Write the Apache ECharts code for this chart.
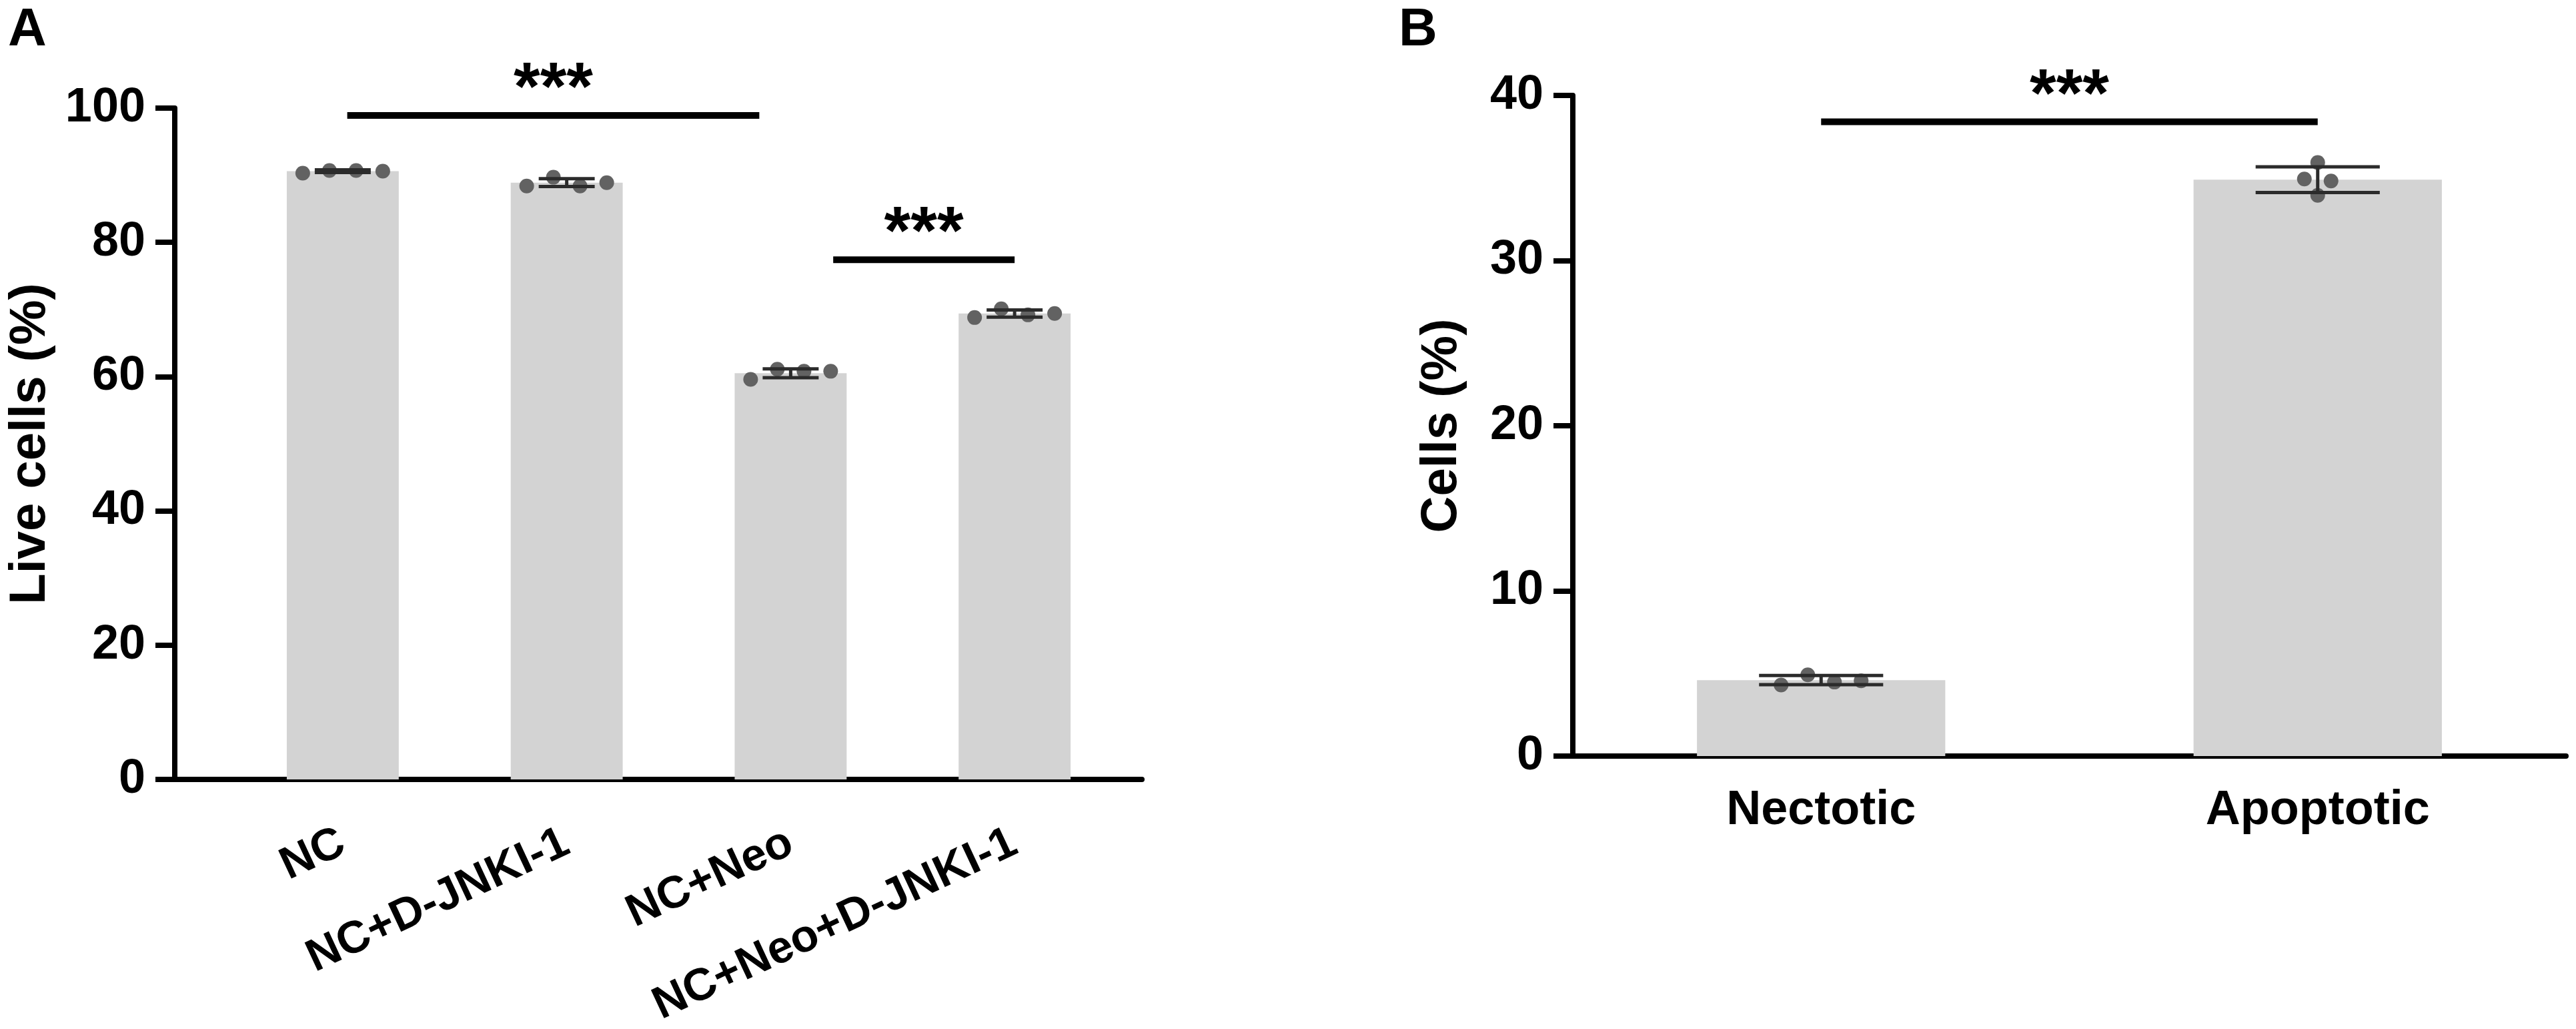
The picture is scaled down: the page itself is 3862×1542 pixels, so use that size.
<!DOCTYPE html>
<html>
<head>
<meta charset="utf-8">
<script src="https://cdn.jsdelivr.net/npm/echarts@6/dist/echarts.min.js"></script>
<style>
  html, body { margin: 0; padding: 0; background: #fff; }
  #chart { width: 3862px; height: 1542px; }
</style>
</head>
<body>
<div id="chart"></div>
<script>
// ---- panel A: live cells ----
const groupsA = ['NC', 'NC+D-JNKI-1', 'NC+Neo', 'NC+Neo+D-JNKI-1'];
const meanA = [90.6, 88.9, 60.5, 69.4];
const sdA = [0.2, 0.58, 0.66, 0.53];
const pointsA = [
  [90.3, 90.7, 90.7, 90.6],
  [88.4, 89.7, 88.4, 88.9],
  [59.6, 61.1, 60.8, 60.8],
  [68.8, 70.1, 69.2, 69.4]
];
// [from category, to category, y, text]
const sigA = [
  [0.02, 1.86, 98.9, '***'],
  [2.19, 3.0, 77.4, '***']
];
const ticksA = [0, 20, 40, 60, 80, 100];

// ---- panel B: cell death type ----
const groupsB = ['Nectotic', 'Apoptotic'];
const meanB = [4.6, 34.9];
const sdB = [0.28, 0.78];
const pointsB = [
  [4.3, 4.92, 4.48, 4.56],
  [35.94, 34.94, 34.82, 33.95]
];
const sigB = [
  [0, 1, 38.4, '***']
];
const ticksB = [0, 10, 20, 30, 40];

const FONT = '"Liberation Sans", Arial, Helvetica, sans-serif';
const BAR_COLOR = '#d3d3d3';
const DOT_COLOR = '#626262';
const ERR_COLOR = '#2b2b2b';
const DOT = 22;      // dot diameter
const DOT_GAP = 40;  // spacing between dots in one row

function seg(x1, y1, x2, y2, color, w) {
  return { type: 'line', shape: { x1, y1, x2, y2 }, style: { stroke: color, lineWidth: w, lineCap: 'butt' } };
}

// dots (grouped in rows when their heights overlap) + mean ± SD error bar
function dotsRender(means, sds, points) {
  return function (params, api) {
    const i = params.dataIndex;
    const band = api.size([1, 0])[0];
    const cx = api.coord([i, means[i]])[0];
    const ys = points[i].map(v => api.coord([i, v])[1]);
    const order = ys.map((y, k) => k).sort((a, b) => ys[a] - ys[b]);
    const bins = [];
    order.forEach(k => {
      const last = bins[bins.length - 1];
      if (last && ys[k] - ys[last[0]] <= DOT) last.push(k);
      else bins.push([k]);
    });
    const children = [];
    bins.forEach(bin => {
      bin.slice().sort((a, b) => a - b).forEach((k, j) => {
        children.push({
          type: 'circle',
          shape: { cx: cx + (j - (bin.length - 1) / 2) * DOT_GAP, cy: ys[k], r: DOT / 2 },
          style: { fill: DOT_COLOR }
        });
      });
    });
    const top = api.coord([i, means[i] + sds[i]])[1];
    const bot = api.coord([i, means[i] - sds[i]])[1];
    const half = band * 0.125;
    children.push(seg(cx, top, cx, bot, ERR_COLOR, 5));
    children.push(seg(cx - half, top, cx + half, top, ERR_COLOR, 5));
    children.push(seg(cx - half, bot, cx + half, bot, ERR_COLOR, 5));
    return { type: 'group', children };
  };
}

// point on a category axis at a fractional category position
function catPoint(api, c, y) {
  const i = Math.floor(c);
  const p = api.coord([i, y]);
  return [p[0] + (c - i) * api.size([1, 0])[0], p[1]];
}

function sigRender(sigs) {
  return function (params, api) {
    const s = sigs[params.dataIndex];
    const a = catPoint(api, s[0], s[2]);
    const b = catPoint(api, s[1], s[2]);
    return {
      type: 'group',
      children: [
        seg(a[0], a[1], b[0], b[1], '#000', 10),
        {
          type: 'text',
          style: {
            text: s[3], x: (a[0] + b[0]) / 2, y: a[1] - 37,
            align: 'center', verticalAlign: 'middle',
            font: 'bold 102px ' + FONT, fill: '#000'
          }
        }
      ]
    };
  };
}

const axisLine = { show: true, onZero: false, lineStyle: { color: '#000', width: 8 } };
const tickLabel = { color: '#000', fontSize: 72, fontWeight: 'bold', fontFamily: FONT, margin: 44 };
const yTick = { show: true, inside: false, length: 29, lineStyle: { color: '#000', width: 8 } };
const nameStyle = { color: '#000', fontSize: 76, fontWeight: 'bold', fontFamily: FONT };

const chart = echarts.init(document.getElementById('chart'));

chart.setOption({
  animation: false,
  backgroundColor: '#fff',
  textStyle: { fontFamily: FONT },
  graphic: [
    { type: 'text', left: 12, top: 6, style: { text: 'A', font: 'bold 80px ' + FONT, fill: '#000' } },
    { type: 'text', left: 2097, top: 6, style: { text: 'B', font: 'bold 80px ' + FONT, fill: '#000' } }
  ],
  grid: [
    // A: axis frame
    { left: 262, top: 162, width: 1450, height: 1006, outerBoundsMode: 'none', containLabel: false },
    // A: bar positions
    { left: 346, top: 162, width: 1343, height: 1006, outerBoundsMode: 'none', containLabel: false },
    // B
    { left: 2358, top: 143, width: 1489, height: 990, outerBoundsMode: 'none', containLabel: false }
  ],
  xAxis: [
    {
      gridIndex: 0, type: 'value', min: 0, max: 1,
      axisLine, axisTick: { show: false }, axisLabel: { show: false }, splitLine: { show: false }
    },
    {
      gridIndex: 1, type: 'category', data: groupsA,
      axisLine: { show: false }, axisTick: { show: false },
      axisLabel: {
        interval: 0, rotate: 25, margin: 92,
        color: '#000', fontSize: 68, fontWeight: 'bold', fontFamily: FONT
      }
    },
    {
      gridIndex: 2, type: 'category', data: groupsB,
      axisLine, axisTick: { show: false },
      axisLabel: { interval: 0, margin: 46, color: '#000', fontSize: 72, fontWeight: 'bold', fontFamily: FONT }
    }
  ],
  yAxis: [
    {
      gridIndex: 0, type: 'value',
      min: ticksA[0], max: ticksA[ticksA.length - 1], interval: ticksA[1] - ticksA[0],
      axisLine, axisTick: yTick, axisLabel: tickLabel, splitLine: { show: false },
      name: 'Live cells (%)', nameLocation: 'middle', nameGap: 178, nameTextStyle: nameStyle
    },
    {
      gridIndex: 1, type: 'value', show: false,
      min: ticksA[0], max: ticksA[ticksA.length - 1]
    },
    {
      gridIndex: 2, type: 'value',
      min: ticksB[0], max: ticksB[ticksB.length - 1], interval: ticksB[1] - ticksB[0],
      axisLine, axisTick: yTick, axisLabel: tickLabel, splitLine: { show: false },
      name: 'Cells (%)', nameLocation: 'middle', nameGap: 158, nameTextStyle: nameStyle
    }
  ],
  series: [
    {
      type: 'bar', xAxisIndex: 1, yAxisIndex: 1, data: meanA,
      barWidth: '50%', itemStyle: { color: BAR_COLOR }, silent: true
    },
    {
      type: 'custom', xAxisIndex: 1, yAxisIndex: 1,
      data: meanA.map((m, i) => [i, m]), encode: { x: 0, y: 1 },
      renderItem: dotsRender(meanA, sdA, pointsA), silent: true, z: 3
    },
    {
      type: 'custom', xAxisIndex: 1, yAxisIndex: 1,
      data: sigA.map(s => [Math.floor(s[0]), s[2]]), encode: { x: 0, y: 1 },
      renderItem: sigRender(sigA), silent: true, clip: false, z: 4
    },
    {
      type: 'bar', xAxisIndex: 2, yAxisIndex: 2, data: meanB,
      barWidth: '50%', itemStyle: { color: BAR_COLOR }, silent: true
    },
    {
      type: 'custom', xAxisIndex: 2, yAxisIndex: 2,
      data: meanB.map((m, i) => [i, m]), encode: { x: 0, y: 1 },
      renderItem: dotsRender(meanB, sdB, pointsB), silent: true, z: 3
    },
    {
      type: 'custom', xAxisIndex: 2, yAxisIndex: 2,
      data: sigB.map(s => [Math.floor(s[0]), s[2]]), encode: { x: 0, y: 1 },
      renderItem: sigRender(sigB), silent: true, clip: false, z: 4
    }
  ]
});
</script>
</body>
</html>
